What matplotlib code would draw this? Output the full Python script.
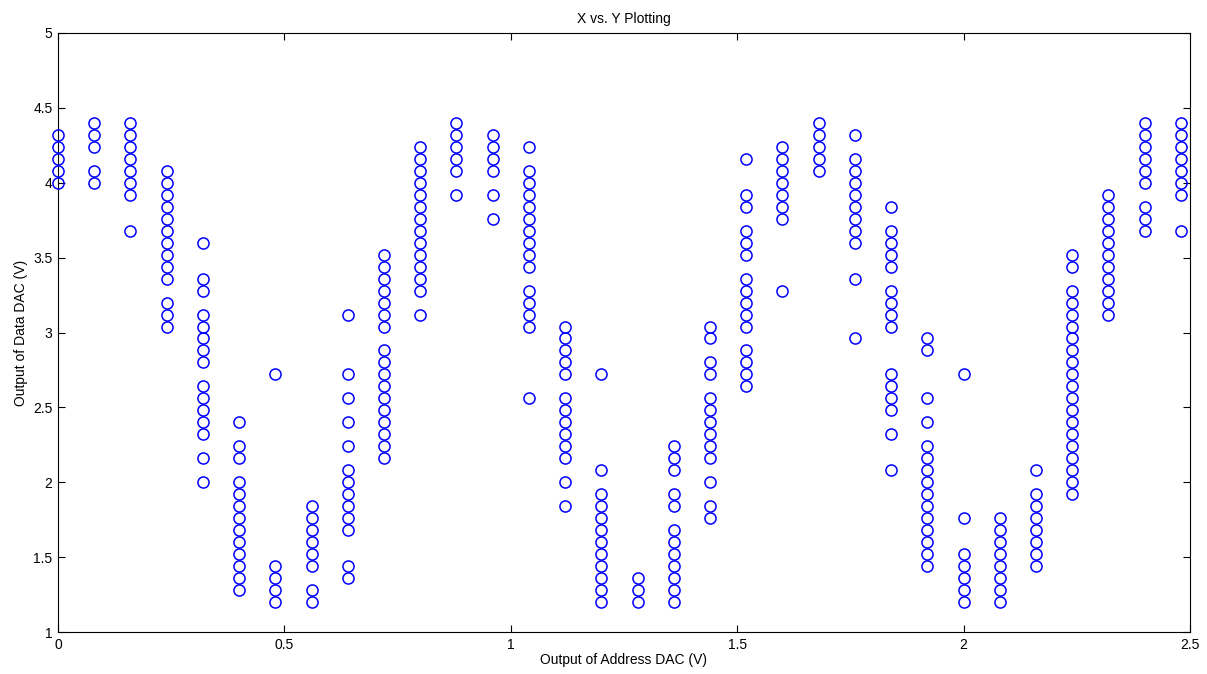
import matplotlib
matplotlib.use('Agg')
import matplotlib.pyplot as plt

# address DAC steps (V) and the data DAC readings seen at each step (V)
x_steps = [0.00, 0.08, 0.16, 0.24, 0.32, 0.40, 0.48, 0.56, 0.64, 0.72,
           0.80, 0.88, 0.96, 1.04, 1.12, 1.20, 1.28, 1.36, 1.44, 1.52,
           1.60, 1.68, 1.76, 1.84, 1.92, 2.00, 2.08, 2.16, 2.24, 2.32,
           2.40, 2.48]

y_readings = [
    [4.32, 4.24, 4.16, 4.08, 4.00],
    [4.40, 4.32, 4.24, 4.08, 4.00],
    [4.40, 4.32, 4.24, 4.16, 4.08, 4.00, 3.92, 3.68],
    [4.08, 4.00, 3.92, 3.84, 3.76, 3.68, 3.60, 3.52, 3.44, 3.36, 3.20, 3.12, 3.04],
    [3.60, 3.36, 3.28, 3.12, 3.04, 2.96, 2.88, 2.80, 2.64, 2.56, 2.48, 2.40, 2.32, 2.16, 2.00],
    [2.40, 2.24, 2.16, 2.00, 1.92, 1.84, 1.76, 1.68, 1.60, 1.52, 1.44, 1.36, 1.28],
    [2.72, 1.44, 1.36, 1.28, 1.20],
    [1.84, 1.76, 1.68, 1.60, 1.52, 1.44, 1.28, 1.20],
    [3.12, 2.72, 2.56, 2.40, 2.24, 2.08, 2.00, 1.92, 1.84, 1.76, 1.68, 1.44, 1.36],
    [3.52, 3.44, 3.36, 3.28, 3.20, 3.12, 3.04, 2.88, 2.80, 2.72, 2.64, 2.56, 2.48, 2.40, 2.32, 2.24, 2.16],
    [4.24, 4.16, 4.08, 4.00, 3.92, 3.84, 3.76, 3.68, 3.60, 3.52, 3.44, 3.36, 3.28, 3.12],
    [4.40, 4.32, 4.24, 4.16, 4.08, 3.92],
    [4.32, 4.24, 4.16, 4.08, 3.92, 3.76],
    [4.24, 4.08, 4.00, 3.92, 3.84, 3.76, 3.68, 3.60, 3.52, 3.44, 3.28, 3.20, 3.12, 3.04, 2.56],
    [3.04, 2.96, 2.88, 2.80, 2.72, 2.56, 2.48, 2.40, 2.32, 2.24, 2.16, 2.00, 1.84],
    [2.72, 2.08, 1.92, 1.84, 1.76, 1.68, 1.60, 1.52, 1.44, 1.36, 1.28, 1.20],
    [1.36, 1.28, 1.20],
    [2.24, 2.16, 2.08, 1.92, 1.84, 1.68, 1.60, 1.52, 1.44, 1.36, 1.28, 1.20],
    [3.04, 2.96, 2.80, 2.72, 2.56, 2.48, 2.40, 2.32, 2.24, 2.16, 2.00, 1.84, 1.76],
    [4.16, 3.92, 3.84, 3.68, 3.60, 3.52, 3.36, 3.28, 3.20, 3.12, 3.04, 2.88, 2.80, 2.72, 2.64],
    [4.24, 4.16, 4.08, 4.00, 3.92, 3.84, 3.76, 3.28],
    [4.40, 4.32, 4.24, 4.16, 4.08],
    [4.32, 4.16, 4.08, 4.00, 3.92, 3.84, 3.76, 3.68, 3.60, 3.36, 2.96],
    [3.84, 3.68, 3.60, 3.52, 3.44, 3.28, 3.20, 3.12, 3.04, 2.72, 2.64, 2.56, 2.48, 2.32, 2.08],
    [2.96, 2.88, 2.56, 2.40, 2.24, 2.16, 2.08, 2.00, 1.92, 1.84, 1.76, 1.68, 1.60, 1.52, 1.44],
    [2.72, 1.76, 1.52, 1.44, 1.36, 1.28, 1.20],
    [1.76, 1.68, 1.60, 1.52, 1.44, 1.36, 1.28, 1.20],
    [2.08, 1.92, 1.84, 1.76, 1.68, 1.60, 1.52, 1.44],
    [3.52, 3.44, 3.28, 3.20, 3.12, 3.04, 2.96, 2.88, 2.80, 2.72, 2.64, 2.56, 2.48, 2.40, 2.32, 2.24, 2.16, 2.08, 2.00, 1.92],
    [3.92, 3.84, 3.76, 3.68, 3.60, 3.52, 3.44, 3.36, 3.28, 3.20, 3.12],
    [4.40, 4.32, 4.24, 4.16, 4.08, 4.00, 3.84, 3.76, 3.68],
    [4.40, 4.32, 4.24, 4.16, 4.08, 4.00, 3.92, 3.68],
]

x_ticks = [0, 0.5, 1, 1.5, 2, 2.5]
x_ticklabels = ['0', '0.5', '1', '1.5', '2', '2.5']
y_ticks = [1, 1.5, 2, 2.5, 3, 3.5, 4, 4.5, 5]
y_ticklabels = ['1', '1.5', '2', '2.5', '3', '3.5', '4', '4.5', '5']

xs = []
ys = []
for xv, col in zip(x_steps, y_readings):
    xs += [xv] * len(col)
    ys += col

plt.rcParams['font.family'] = ['Liberation Sans', 'DejaVu Sans']
plt.rcParams['font.size'] = 10

fig = plt.figure(figsize=(12.07, 6.74), dpi=100)
ax = fig.add_axes([58/1207, 42/674, 1132/1207, 599/674])

# markers sit on top of the left axis line, like the original
ax.plot(xs, ys, linestyle='', marker='o', markersize=8, mfc='none',
        mec=(0, 0, 1), mew=1.1, clip_on=False, zorder=5)

ax.set_xlim(0, 2.5)
ax.set_ylim(1, 5)
ax.set_xticks(x_ticks)
ax.set_xticklabels(x_ticklabels)
ax.set_yticks(y_ticks)
ax.set_yticklabels(y_ticklabels)
ax.tick_params(direction='in', length=5, width=0.8, top=True, right=True,
               labelsize=10, pad=4)
for s in ax.spines.values():
    s.set_linewidth(0.8)

ax.set_title('X vs. Y Plotting', fontsize=10, pad=7)
ax.set_xlabel('Output of Address DAC (V)', labelpad=1)
ax.set_ylabel('Output of Data DAC (V)', labelpad=4)

fig.savefig('out.png', dpi=100)
